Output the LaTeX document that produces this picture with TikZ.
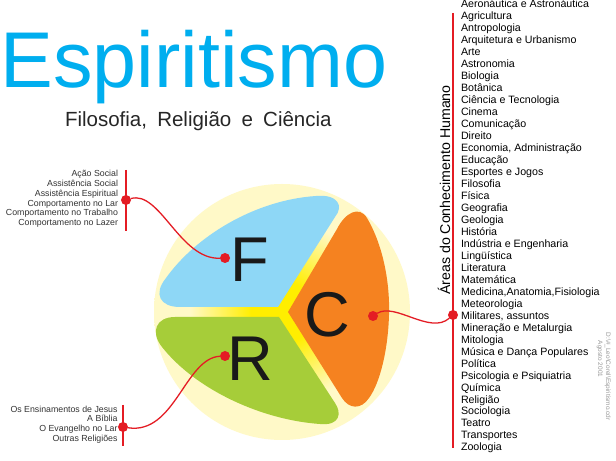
\documentclass[tikz,border=0pt]{standalone}
\usepackage{fontspec}
\setmainfont{Liberation Sans}
\usetikzlibrary{positioning}

\definecolor{titlecyan}{RGB}{0,174,239}
\definecolor{paleyellow}{RGB}{255,249,200}
\definecolor{coreyellow}{RGB}{255,238,0}
\definecolor{skyblue}{RGB}{142,215,246}
\definecolor{leafgreen}{RGB}{166,205,57}
\definecolor{sciorange}{RGB}{245,130,32}
\definecolor{linered}{RGB}{228,28,36}

\pgfdeclareradialshading{coreglow}{\pgfpoint{0bp}{0bp}}{%
    color(0bp)=(coreyellow); color(6bp)=(coreyellow);
    color(18bp)=(paleyellow); color(50bp)=(paleyellow)}

\begin{document}
\begin{tikzpicture}[x=0.03cm, y=-0.03cm
        , every node/.style={ inner sep=0pt, outer sep=0pt }
        , reddot/.style={ circle, fill=linered, minimum size=3mm }
        , redbar/.style={ draw=linered, line width=1.6pt }
        , redcurve/.style={ draw=linered, line width=1.1pt }
        , smallitem/.style={ anchor=base east, text=black!80, font=\fontsize{7.5}{9}\selectfont }
        , areaitem/.style={ anchor=base west, font=\fontsize{9.1}{10}\selectfont }
        , bigletter/.style={ font=\fontsize{54}{60}\selectfont, text=black!90 }
        ]

    \fill[white] (0,0) rectangle (616,461);
    \useasboundingbox (0,0) rectangle (616,461);

    % Title and subtitle.
    \node[anchor=base west, text=titlecyan, font=\fontsize{67.5}{70}\selectfont]
        (title) at (0.4,87.3) {Espiritismo};
    \node[anchor=base west, text=black!85, font=\fontsize{17.5}{20}\selectfont]
        (subtitle) at (65,126.7)
        {Filosofia,\hspace{0.5em}Religião\hspace{0.5em}e\hspace{0.5em}Ciência};

    % The circle, with its glowing core.
    \path[shading=coreglow] (282,312) circle [radius=128];

    % Filosofia.
    \fill[skyblue] (278,307) -- (180,307)
        .. controls (160,307) and (153,294) .. (166,278)
        .. controls (196,236) and (255,200) .. (316,196)
        .. controls (338,194) and (344,206) .. (335,217) -- cycle;
    % Religião.
    \fill[leafgreen] (279,317) -- (175,317)
        .. controls (156,317) and (150,332) .. (162,347)
        .. controls (196,390) and (262,420) .. (320,424)
        .. controls (340,426) and (342,413) .. (335,403) -- cycle;
    % Ciência.
    \fill[sciorange] (288,312) -- (337,229)
        .. controls (345,213) and (359,205) .. (367,218)
        .. controls (384,247) and (390,285) .. (389,315)
        .. controls (388,350) and (380,383) .. (369,398)
        .. controls (361,410) and (349,409) .. (342,398) -- cycle;

    \node[bigletter] (F) at (250,259.5) {F};
    \node[bigletter] (R) at (250,358.5) {R};
    \node[bigletter] (C) at (327.5,314.5) {C};

    % Lists on the left.
    \foreach \item [count=\i] in {Ação Social, Assistência Social, Assistência Espiritual,
            Comportamento no Lar, Comportamento no Trabalho, Comportamento no Lazer}
        \node[smallitem] (fil\i) at (118,{177+9.75*(\i-1)}) {\item};

    \foreach \item [count=\i] in {Os Ensinamentos de Jesus, A Bíblia,
            O Evangelho no Lar, Outras Religiões}
        \node[smallitem] (rel\i) at (117.5,{412.2+9.77*(\i-1)}) {\item};

    % Areas on the right.
    \foreach \area [count=\i] in {Aeronáutica e Astronáutica, Agricultura, Antropologia,
            Arquitetura e Urbanismo, Arte, Astronomia, Biologia, Botânica,
            Ciência e Tecnologia, Cinema, Comunicação, Direito,
            {Economia, Administração}, Educação, Esportes e Jogos, Filosofia,
            Física, Geografia, Geologia, História, Indústria e Engenharia,
            Lingüística, Literatura, Matemática, {Medicina,Anatomia,Fisiologia},
            Meteorologia, {Militares, assuntos}, Mineração e Metalurgia, Mitologia,
            Música e Dança Populares, Política, Psicologia e Psiquiatria, Química,
            Religião, Sociologia, Teatro, Transportes, Zoologia}
        \node[areaitem] (area\i) at (461,{8+11.97*(\i-1)}) {\area};

    \node[rotate=90, anchor=base, font=\fontsize{12.1}{14}\selectfont]
        (areas) at (450,190) {Áreas do Conhecimento Humano};

    % Red bars, dots and links.
    \coordinate (ftop) at (126,170);
    \coordinate (fbot) at (126,231);
    \coordinate (rtop) at (123,405);
    \coordinate (rbot) at (123,446);
    \coordinate (ctop) at (453,13);
    \coordinate (cbot) at (453,448);
    \draw[redbar] (ftop) -- (fbot);
    \draw[redbar] (rtop) -- (rbot);
    \draw[redbar] (ctop) -- (cbot);

    \node[reddot] (fhub) at (126,200) {};
    \node[reddot] (rhub) at (123,427) {};
    \node[reddot] (chub) at (453,315) {};
    \node[reddot] (fdot) at (225,258) {};
    \node[reddot] (rdot) at (225,356) {};
    \node[reddot] (cdot) at (373,316) {};

    \draw[redcurve] (fhub) .. controls (160,190) and (180,260) .. (fdot);
    \draw[redcurve] (rhub) .. controls (175,435) and (185,358) .. (rdot);
    \draw[redcurve] (cdot) .. controls (395,302) and (430,335) .. (chub);

    % File stamp.
    \node[rotate=-90, anchor=base west, text=black!40, font=\fontsize{5.5}{6}\selectfont]
        (stamp) at (606,333) {D:\textbackslash\#\_Leo\textbackslash Corel\textbackslash Espiritismo.cdr};
    \node[rotate=-90, anchor=base west, text=black!40, font=\fontsize{5.5}{6}\selectfont]
        (stampdate) at (598,341) {Agosto 2001};

\end{tikzpicture}
\end{document}
